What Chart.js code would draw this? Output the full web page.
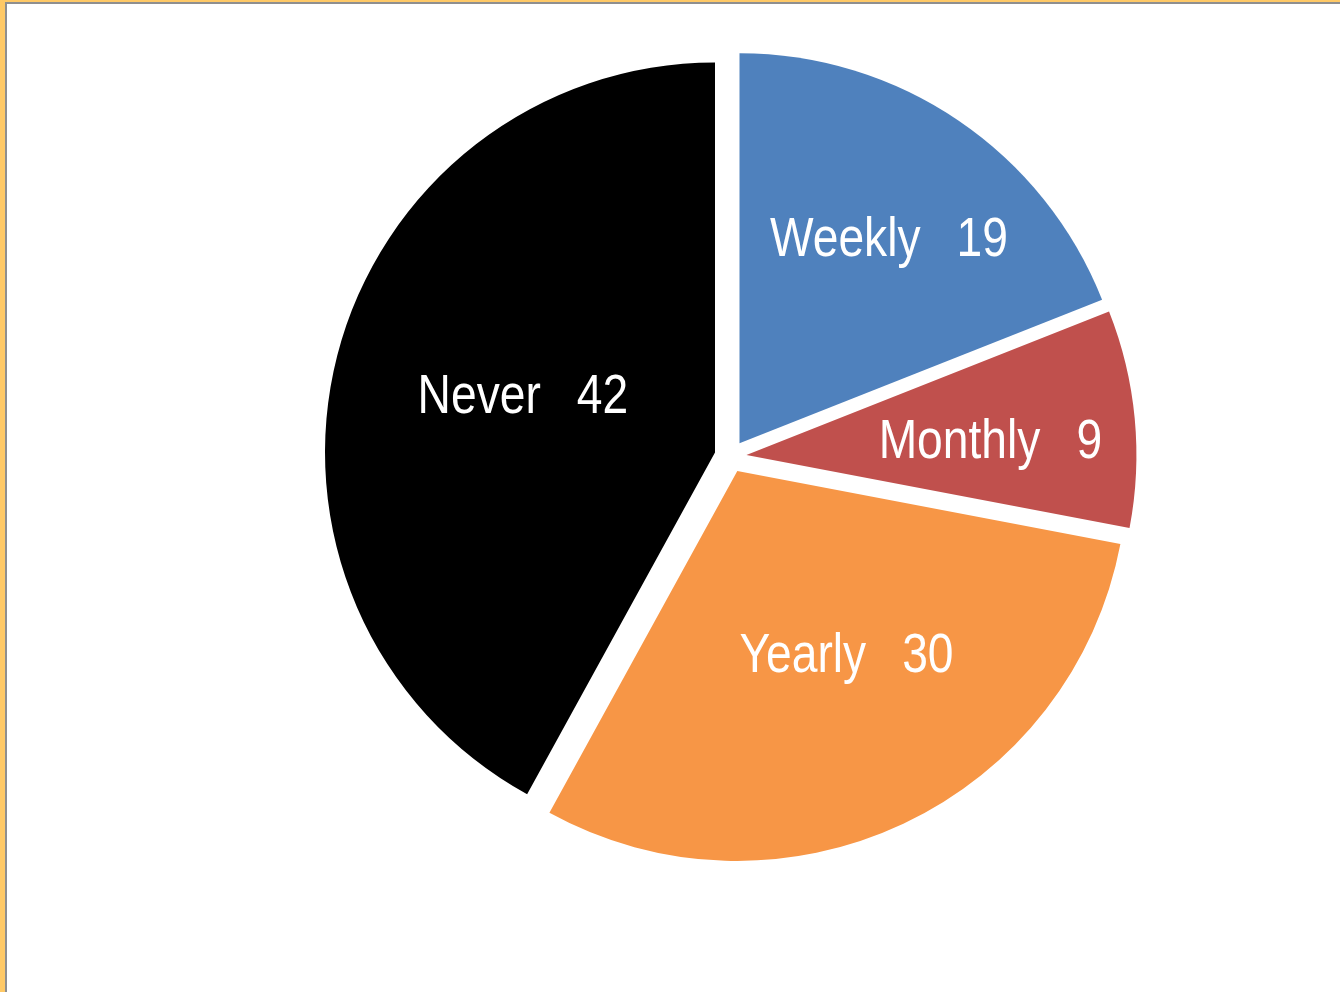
<!DOCTYPE html>
<html>
<head>
<meta charset="utf-8">
<script src="https://cdn.jsdelivr.net/npm/chart.js@4.4.1/dist/chart.umd.min.js"></script>
<style>
    html, body { margin: 0; padding: 0; }
    body { width: 1340px; height: 992px; position: relative; overflow: hidden; background: #FFC966; }
    .sheet {
        position: absolute; left: 5px; top: 2px; right: 0; bottom: 0;
        background: #fff;
        border-left: 2px solid #8f8f8f;
        border-top: 2px solid #8f8f8f;
    }
    #pieChart { position: absolute; left: 0; top: 0; }
</style>
</head>
<body>
<div class="sheet"></div>
<canvas id="pieChart" width="1340" height="992"></canvas>
<script>
// Chart data
const categories = ['Weekly', 'Monthly', 'Yearly', 'Never'];
const counts = [19, 9, 30, 42];
const sliceColors = ['#4F81BD', '#C0504D', '#F79646', '#000000'];

// Label placement (fraction of radius, turn in degrees from slice middle)
const labelDist = [0.655, 0.627, 0.542, 0.515];
const labelTurn = [1.6, 1.4, -5.9, 2.6];

const EXPLODE = 16;
const FONT_SIZE = 55;
const NARROW = 0.84;
const LABEL_GAP = 36;

// Push every slice out from the centre (no radius change)
const explodePlugin = {
    id: 'explode',
    beforeDatasetDraw(chart, args) {
        const ctx = chart.ctx;
        args.meta.data.forEach(arc => {
            const mid = (arc.startAngle + arc.endAngle) / 2;
            ctx.save();
            ctx.translate(Math.cos(mid) * EXPLODE, Math.sin(mid) * EXPLODE);
            arc.draw(ctx);
            ctx.restore();
        });
        return false;
    }
};

// White "Label   value" text inside the slices
const sliceLabels = {
    id: 'sliceLabels',
    afterDatasetsDraw(chart) {
        const ctx = chart.ctx;
        const meta = chart.getDatasetMeta(0);
        meta.data.forEach((arc, i) => {
            const mid = (arc.startAngle + arc.endAngle) / 2;
            const cx = arc.x + Math.cos(mid) * EXPLODE;
            const cy = arc.y + Math.sin(mid) * EXPLODE;
            const a = mid + labelTurn[i] * Math.PI / 180;
            const r = arc.outerRadius * labelDist[i];
            const x = cx + Math.cos(a) * r;
            const y = cy + Math.sin(a) * r;

            ctx.save();
            ctx.font = `${FONT_SIZE}px "Liberation Sans", Arial, sans-serif`;
            ctx.fillStyle = '#ffffff';
            ctx.textAlign = 'left';
            ctx.textBaseline = 'alphabetic';
            const label = categories[i];
            const value = String(counts[i]);
            const wL = ctx.measureText(label).width;
            const wV = ctx.measureText(value).width;
            const gap = LABEL_GAP / NARROW;
            const total = wL + gap + wV;
            ctx.translate(x, y + FONT_SIZE * 0.716 / 2);
            ctx.scale(NARROW, 1);
            ctx.fillText(label, -total / 2, 0);
            ctx.fillText(value, -total / 2 + wL + gap, 0);
            ctx.restore();
        });
    }
};

new Chart(document.getElementById('pieChart').getContext('2d'), {
    type: 'pie',
    data: {
        labels: categories,
        datasets: [{
            data: counts,
            backgroundColor: sliceColors,
            borderWidth: 0
        }]
    },
    options: {
        responsive: false,
        animation: false,
        radius: 390,
        layout: {
            padding: { left: 121, right: 0, top: 0, bottom: 79 }
        },
        plugins: {
            legend: { display: false },
            tooltip: { enabled: false }
        }
    },
    plugins: [explodePlugin, sliceLabels]
});
</script>
</body>
</html>
